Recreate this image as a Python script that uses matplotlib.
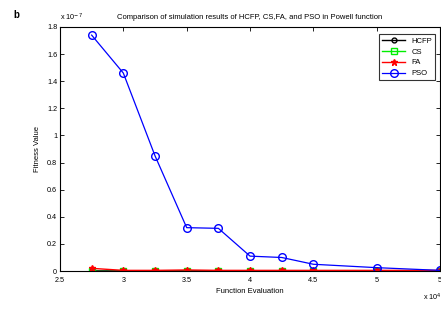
import matplotlib.pyplot as plt

plt.rcParams['font.family'] = 'Liberation Sans'

# function evaluations (x 10^4) and fitness values (x 10^-7)
evals = [2.75, 3.0, 3.25, 3.5, 3.75, 4.0, 4.25, 4.5, 5.0, 5.5]
hcfp = [0, 0, 0, 0, 0, 0, 0, 0, 0, 0]
cs = [0.003, 0.003, 0.003, 0.003, 0.003, 0.003, 0.003, 0.003, 0.003, 0.003]
fa = [0.02, 0.005, 0.005, 0.008, 0.005, 0.005, 0.005, 0.005, 0.005, 0.005]
pso = [1.74, 1.46, 0.85, 0.32, 0.315, 0.11, 0.10, 0.05, 0.025, 0.005]

fig = plt.figure(figsize=(4.41, 3.25), dpi=100)
ax = fig.add_axes([0.136, 0.166, 0.862, 0.751])

ax.plot(evals, hcfp, color='black', lw=1.8)
ax.plot(evals, hcfp, color='black', marker='o', ms=3.5, mfc='none', lw=1, label='HCFP')
ax.plot(evals, cs, color='#00ee00', marker='s', ms=5, mfc='none', lw=1, label='CS')
ax.plot(evals, fa, color='red', marker='*', ms=5, lw=1, label='FA')
ax.plot(evals, pso, color='blue', marker='o', ms=5.5, mfc='none', lw=0.9, label='PSO')

ax.set_xlim(2.5, 5.5)
ax.set_ylim(0, 1.8)
ax.set_xticks([2.5, 3, 3.5, 4, 4.5, 5, 5.5])
ax.set_xticklabels(['2.5', '3', '3.5', '4', '4.5', '5', '5'])
ax.set_yticks([0, 0.2, 0.4, 0.6, 0.8, 1, 1.2, 1.4, 1.6, 1.8])
ax.set_yticklabels(['0', '0.2', '0.4', '0.6', '0.8', '1', '1.2', '1.4', '1.6', '1.8'])
ax.tick_params(direction='in', top=True, right=True, labelsize=5.2, length=3, width=0.6, pad=2)
ax.tick_params(axis='x', pad=4)
for s in ax.spines.values():
    s.set_linewidth(0.8)

ax.set_title('Comparison of simulation results of HCFP, CS,FA, and PSO in Powell function',
             fontsize=5.5, pad=6)
ax.set_xlabel('Function Evaluation', fontsize=5.5, labelpad=3)
ax.set_ylabel('Fitness Value', fontsize=5.5, labelpad=4)

fig.text(0.136, 0.938, 'x 10$^{-7}$', fontsize=5.2)
fig.text(0.96, 0.075, 'x 10$^{4}$', fontsize=5.2)
fig.text(0.03, 0.945, 'b', fontsize=7, fontweight='bold')

leg = ax.legend(loc='upper right', fontsize=5.5, frameon=True, fancybox=False,
                edgecolor='black', handlelength=3, borderpad=0.4, labelspacing=0.45,
                bbox_to_anchor=(0.997, 0.985))
leg.get_frame().set_linewidth(0.8)

fig.savefig('out.png', dpi=100)
